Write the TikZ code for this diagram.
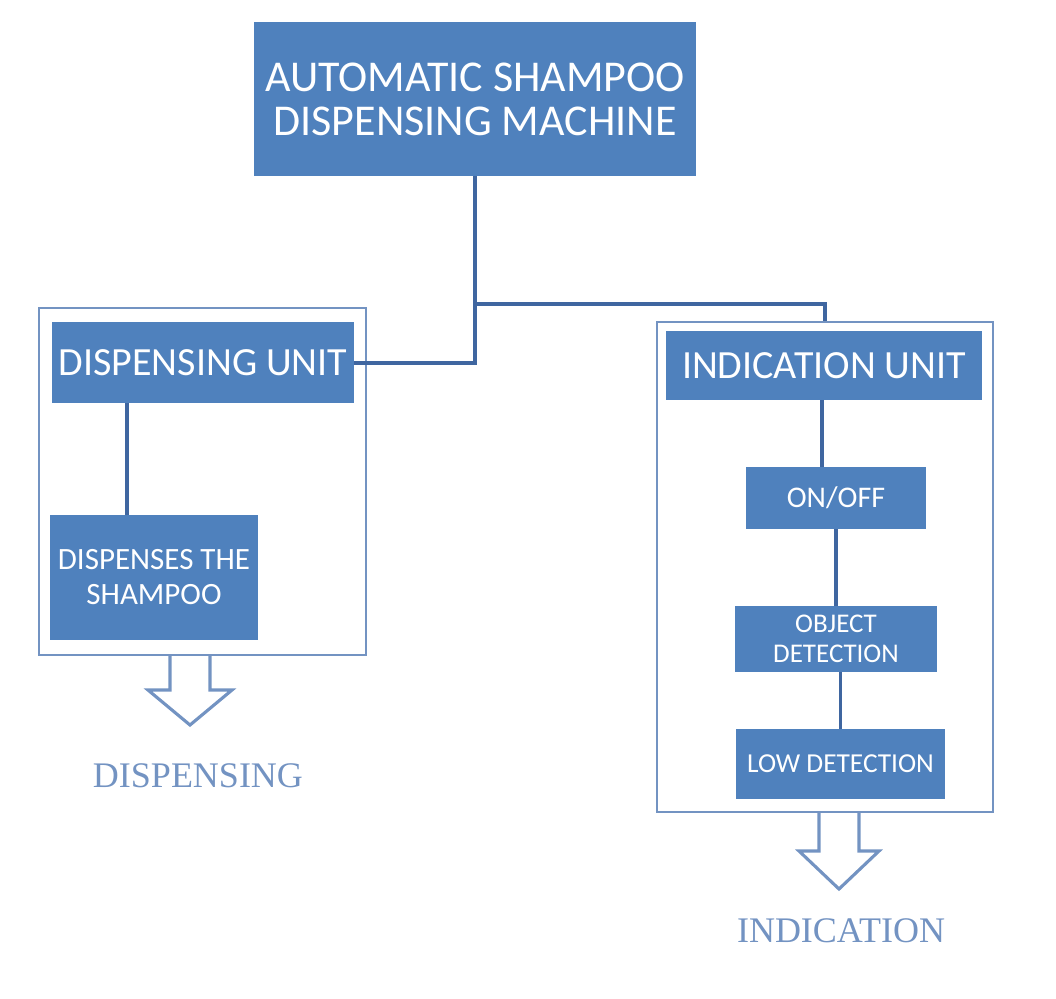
\documentclass[tikz,border=0pt]{standalone}
\usepackage{fontspec}
\setmainfont{Carlito}
\newfontfamily\lblfont{Liberation Serif}
\usepackage{tikz}
\definecolor{boxblue}{HTML}{4F81BD}
\definecolor{lineblue}{HTML}{3F66A0}
\definecolor{frameblue}{HTML}{7393C2}
\tikzset{
	ubox/.style={fill=boxblue, text=white, inner sep=0pt, align=center},
	frame/.style={draw=frameblue, line width=0.5mm},
	link/.style={draw=lineblue, line width=0.7mm},
	hollow/.style={draw=frameblue, line width=0.55mm, line join=miter},
	lbl/.style={text=frameblue, font=\lblfont\fontsize{18}{20}\selectfont}
}

\begin{document}
\begin{tikzpicture}[x=0.5pt, y=-0.5pt]
	%%%%% START %%%%%
	\useasboundingbox (0, 0) rectangle (1056, 998);

	\node[ubox, minimum width=221pt, minimum height=77pt, font=\fontsize{22}{22}\selectfont] (machine) at (475, 99) {AUTOMATIC SHAMPOO\\DISPENSING MACHINE};

	% dispensing side
	\draw[frame] (39, 308) rectangle (366, 655);
	\node[ubox, minimum width=151pt, minimum height=40.5pt, font=\fontsize{20}{22}\selectfont] (dispunit) at (203, 362.5) {DISPENSING UNIT};
	\node[ubox, minimum width=104pt, minimum height=62.5pt, font=\fontsize{15.5}{17.5}\selectfont] (dispshampoo) at (154, 577.5) {DISPENSES THE\\SHAMPOO};

	% indication side
	\node[frame, minimum width=168pt, minimum height=245pt] (indframe) at (825, 567) {};
	\node[ubox, minimum width=158pt, minimum height=34.5pt, font=\fontsize{20}{22}\selectfont] (indunit) at (824, 365.5) {INDICATION UNIT};
	\node[ubox, minimum width=90pt, minimum height=31pt, font=\fontsize{15}{17}\selectfont] (onoff) at (836, 498) {ON/OFF};
	\node[ubox, minimum width=101pt, minimum height=33pt, font=\fontsize{13.5}{15}\selectfont] (objdet) at (836, 639) {OBJECT\\DETECTION};
	\node[ubox, minimum width=104.5pt, minimum height=35pt, font=\fontsize{13.7}{15}\selectfont] (lowdet) at (840.5, 764) {LOW DETECTION};

	% connectors
	\coordinate (split) at (475, 304);
	\coordinate (dispdrop) at (127, 0);
	\coordinate (inddrop) at (822, 0);
	\draw[link] (machine.south) -- (split) |- (dispunit.east);
	\draw[link] (split) -| (indframe.north);
	\draw[link] (dispunit.south -| dispdrop) -- (dispshampoo.north -| dispdrop);
	\draw[link] (indunit.south -| inddrop) -- (onoff.north -| inddrop);
	\draw[link] (onoff.south) -- (objdet.north);
	\draw[link] (objdet.south -| lowdet.north) -- (lowdet.north);

	% outputs
	\draw[hollow] (170, 655) -- (170, 690) -- (148, 690) -- (190, 725) -- (232, 690) -- (210, 690) -- (210, 655);
	\node[lbl, anchor=base] (dispout) at (198, 787) {DISPENSING};

	\draw[hollow] (819, 812) -- (819, 851) -- (799, 851) -- (839, 889) -- (879, 851) -- (859, 851) -- (859, 812);
	\node[lbl, anchor=base] (indout) at (841, 942) {INDICATION};
	%%%%% END %%%%%
\end{tikzpicture}
\end{document}
